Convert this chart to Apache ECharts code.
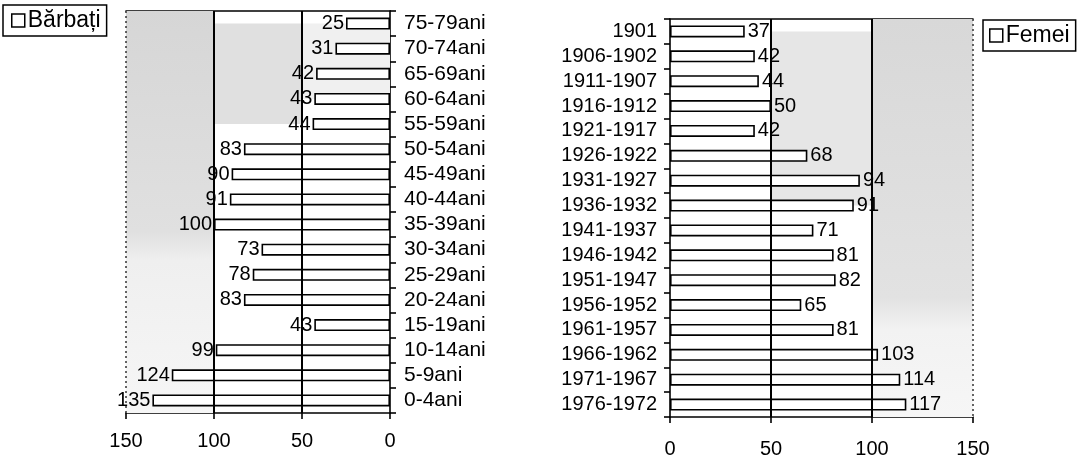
<!DOCTYPE html>
<html>
<head>
<meta charset="utf-8">
<script src="https://cdn.jsdelivr.net/npm/echarts@6/dist/echarts.min.js"></script>
<style>
html,body{margin:0;padding:0;background:#fff;}
#c{width:1085px;height:463px;}
</style>
</head>
<body>
<div id="c"></div>
<script>
const maleCategories = ['75-79ani','70-74ani','65-69ani','60-64ani','55-59ani','50-54ani','45-49ani','40-44ani','35-39ani','30-34ani','25-29ani','20-24ani','15-19ani','10-14ani','5-9ani','0-4ani'];
const maleValues = [25,31,42,43,44,83,90,91,100,73,78,83,43,99,124,135];
const femaleCategories = ['1901','1906-1902','1911-1907','1916-1912','1921-1917','1926-1922','1931-1927','1936-1932','1941-1937','1946-1942','1951-1947','1956-1952','1961-1957','1966-1962','1971-1967','1976-1972'];
const femaleValues = [37,42,44,50,42,68,94,91,71,81,82,65,81,103,114,117];
const axisTicks = [0,50,100,150];

const FONT = 'Liberation Sans, Arial, sans-serif';
const barStyle = {color:'#ffffff', borderColor:'#000000', borderWidth:1.6};
const grad = (stops) => ({type:'linear', x:0, y:0, x2:0, y2:1, colorStops: stops.map(s=>({offset:s[0], color:s[1]}))});

const chart = echarts.init(document.getElementById('c'));
const xBase = (grid, inverse, pos, showLabels, margin) => ({
  type:'value', gridIndex:grid, inverse:inverse, position:pos,
  min:axisTicks[0], max:axisTicks[axisTicks.length-1], interval:50,
  axisLine:{show:true, lineStyle:{color:'#000', width:1.6}},
  axisTick:{show:showLabels, length:6, lineStyle:{color:'#000', width:1.6}},
  axisLabel:{show:showLabels, color:'#000', fontSize:20, fontFamily:FONT, margin:margin},
  splitLine:{show:false}
});
const yBase = (grid, data, pos, margin, fs) => ({
  type:'category', gridIndex:grid, data:data, inverse:true, position:pos,
  axisLine:{show:true, lineStyle:{color:'#000', width:1.6}},
  axisTick:{show:true, length:6, alignWithLabel:false, interval:0, lineStyle:{color:'#000', width:1.6}},
  axisLabel:{interval:0, color:'#000', fontSize:fs, fontFamily:FONT, margin:margin},
  splitLine:{show:false}
});
const lineMarks = (edge) => ({
  silent:true, symbol:['none','none'], label:{show:false},
  data:[
    {xAxis:100, lineStyle:{color:'#000', width:2, type:'solid'}},
    {xAxis:50, lineStyle:{color:'#000', width:2, type:'solid'}},
    {xAxis:edge, lineStyle:{color:'#333', width:1.5, type:[2,3]}}
  ]
});

chart.setOption({
  animation:false,
  backgroundColor:'#ffffff',
  legend:[
    {data:['Bărbați'], left:3, top:5, orient:'vertical', padding:[4,6,4,8],
     borderColor:'#000', borderWidth:1.5, itemWidth:13, itemHeight:13, itemGap:4,
     icon:'rect', itemStyle:{color:'#fff', borderColor:'#000', borderWidth:1.5},
     textStyle:{fontSize:23, fontFamily:FONT, color:'#000', padding:[0,0,0,-2]}},
    {data:['Femei'], left:983, top:20, orient:'vertical', padding:[4,6,4,6],
     borderColor:'#000', borderWidth:1.5, itemWidth:13, itemHeight:13, itemGap:4,
     icon:'rect', itemStyle:{color:'#fff', borderColor:'#000', borderWidth:1.5},
     textStyle:{fontSize:23, fontFamily:FONT, color:'#000', padding:[0,0,0,-2]}}
  ],
  grid:[
    {left:126, right:695, top:11, bottom:50, containLabel:false},
    {left:670, right:112, top:19, bottom:46, containLabel:false}
  ],
  xAxis:[
    xBase(0, true, 'bottom', true, 18),
    xBase(1, false, 'bottom', true, 22),
    xBase(0, true, 'top', false, 0),
    xBase(1, false, 'top', false, 0)
  ],
  yAxis:[
    yBase(0, maleCategories, 'right', 14, 21),
    yBase(1, femaleCategories, 'left', 13, 20)
  ],
  series:[
    {type:'line', xAxisIndex:0, yAxisIndex:0, data:[], z:1, silent:true,
     markArea:{silent:true, data:[
       [{xAxis:150, itemStyle:{color:grad([[0,'#d6d6d6'],[0.55,'#e0e0e0'],[0.62,'#efefef'],[1,'#f6f6f6']])}}, {xAxis:100}],
       [{xAxis:100, yAxis:'75-79ani', itemStyle:{color:'#e0e0e0'}}, {xAxis:50, yAxis:'55-59ani'}],
       [{xAxis:50, yAxis:'75-79ani', itemStyle:{color:'#f0f0f0'}}, {xAxis:0, yAxis:'60-64ani'}]
     ]},
     markLine:lineMarks(150)},
    {type:'line', xAxisIndex:1, yAxisIndex:1, data:[], z:1, silent:true,
     markArea:{silent:true, data:[
       [{xAxis:100, itemStyle:{color:grad([[0,'#d8d8d8'],[0.7,'#e2e2e2'],[0.78,'#f2f2f2'],[1,'#f6f6f6']])}}, {xAxis:150}],
       [{xAxis:50, yAxis:'1901', itemStyle:{color:'#e6e6e6'}}, {xAxis:100, yAxis:'1936-1932'}]
     ]},
     markLine:lineMarks(150)},
    {name:'Bărbați', type:'bar', xAxisIndex:0, yAxisIndex:0, data:maleValues, barWidth:12, z:3,
     itemStyle:barStyle,
     label:{show:true, position:'left', distance:2, color:'#000', fontSize:20, fontFamily:FONT}},
    {name:'Femei', type:'bar', xAxisIndex:1, yAxisIndex:1, data:femaleValues, barWidth:12, z:3,
     itemStyle:barStyle,
     label:{show:true, position:'right', distance:3, color:'#000', fontSize:20, fontFamily:FONT}}
  ]
});
</script>
</body>
</html>
